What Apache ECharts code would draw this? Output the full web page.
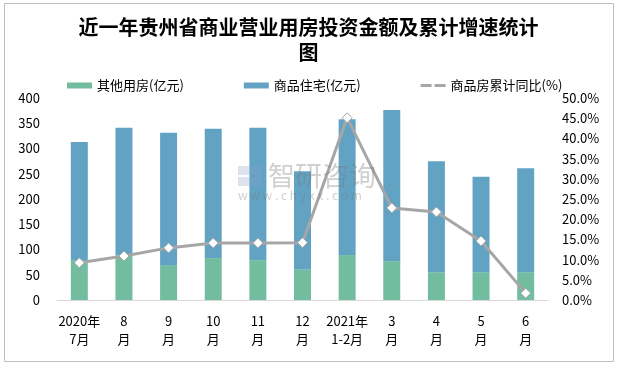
<!DOCTYPE html>
<html><head><meta charset="utf-8">
<script src="https://cdn.jsdelivr.net/npm/echarts@6/dist/echarts.min.js"></script>
<style>html,body{margin:0;padding:0;background:#fff}#c{width:617px;height:366px}</style>
</head><body><div id="c"></div>
<script>
const categories = ['2020年\n7月','8\n月','9\n月','10\n月','11\n月','12\n月','2021年\n1-2月','3\n月','4\n月','5\n月','6\n月'];
const otherValues = [79, 88, 69, 83, 79, 61, 89, 77, 55, 55, 55];
const residentialValues = [234, 253, 262, 256, 262, 194, 269, 299, 220, 189, 206];
const growthValues = [9.2, 10.9, 12.9, 14.1, 14.1, 14.2, 45.1, 22.8, 21.8, 14.6, 1.7];
const leftTicks = {min: 0, max: 400, interval: 50};
const rightTicks = {min: 0, max: 50, interval: 5};

const chart = echarts.init(document.getElementById('c'));
const font = '"Noto Sans CJK SC", "Noto Sans", sans-serif';
chart.setOption({
  animation: false,
  textStyle: {fontFamily: font},
  title: {
    text: '近一年贵州省商业营业用房投资金额及累计增速统计\n图',
    left: 'center', top: 10,
    textStyle: {fontSize: 20, fontWeight: 'bold', color: '#000', lineHeight: 25, fontFamily: font}
  },
  legend: {
    top: 74, left: 62, itemGap: 60, itemWidth: 25, itemHeight: 6,
    textStyle: {fontSize: 13, color: '#000'},
    data: [
      {name: '其他用房(亿元)', icon: 'rect'},
      {name: '商品住宅(亿元)', icon: 'rect'},
      {name: '商品房累计同比(%)', icon: 'path://M0,0h11v3H0z M14,0h11v3H14z', itemStyle: {color: '#a6a6a6', borderWidth: 0}}
    ]
  },
  grid: {left: 57, right: 69, top: 98, bottom: 66},
  xAxis: {
    type: 'category', data: categories,
    axisLine: {lineStyle: {color: '#d9d9d9'}},
    axisTick: {show: false},
    axisLabel: {color: '#000', fontSize: 13, lineHeight: 18, interval: 0, margin: 12}
  },
  yAxis: [
    {type: 'value', min: leftTicks.min, max: leftTicks.max, interval: leftTicks.interval,
     splitLine: {show: false}, axisLine: {show: false}, axisTick: {show: false},
     axisLabel: {color: '#000', fontSize: 13, margin: 17}},
    {type: 'value', min: rightTicks.min, max: rightTicks.max, interval: rightTicks.interval,
     splitLine: {show: false}, axisLine: {show: false}, axisTick: {show: false},
     axisLabel: {color: '#000', fontSize: 13, margin: 14, formatter: v => v.toFixed(1) + '%'}}
  ],
  series: [
    {name: '其他用房(亿元)', type: 'bar', stack: 'a', barWidth: 17, data: otherValues,
     itemStyle: {color: '#72bca0'}},
    {name: '商品住宅(亿元)', type: 'bar', stack: 'a', barWidth: 17, data: residentialValues,
     itemStyle: {color: '#62a3c4'}},
    {name: '商品房累计同比(%)', type: 'line', yAxisIndex: 1, data: growthValues,
     lineStyle: {color: '#a6a6a6', width: 3},
     symbol: 'diamond', symbolSize: 10,
     itemStyle: {color: '#ffffff', borderColor: '#a6a6a6', borderWidth: 1}}
  ],
  graphic: [
    {type: 'rect', shape: {x: 4.5, y: 3.5, width: 609, height: 358}, style: {fill: 'none', stroke: '#bfbfbf', lineWidth: 1}, silent: true, z: -1},
    {type: 'text', left: 268, top: 162, style: {text: '智研咨询', fontSize: 27, fill: 'rgba(120,120,120,0.35)', fontFamily: font}, z: 10},
    {type: 'text', left: 238, top: 189, style: {text: 'w w w . c h y x x . c o m', fontSize: 12, fill: 'rgba(120,120,120,0.35)', fontFamily: font}, z: 10},
    {type: 'rect', shape: {x: 238, y: 166, width: 11, height: 9}, style: {fill: 'rgba(140,160,200,0.3)'}, z: 10},
    {type: 'rect', shape: {x: 251, y: 166, width: 11, height: 9}, style: {fill: 'rgba(140,160,200,0.3)'}, z: 10},
    {type: 'rect', shape: {x: 238, y: 177, width: 11, height: 9}, style: {fill: 'rgba(140,160,200,0.3)'}, z: 10},
    {type: 'rect', shape: {x: 251, y: 177, width: 11, height: 9}, style: {fill: 'rgba(140,160,200,0.3)'}, z: 10}
  ]
});
</script></body></html>
